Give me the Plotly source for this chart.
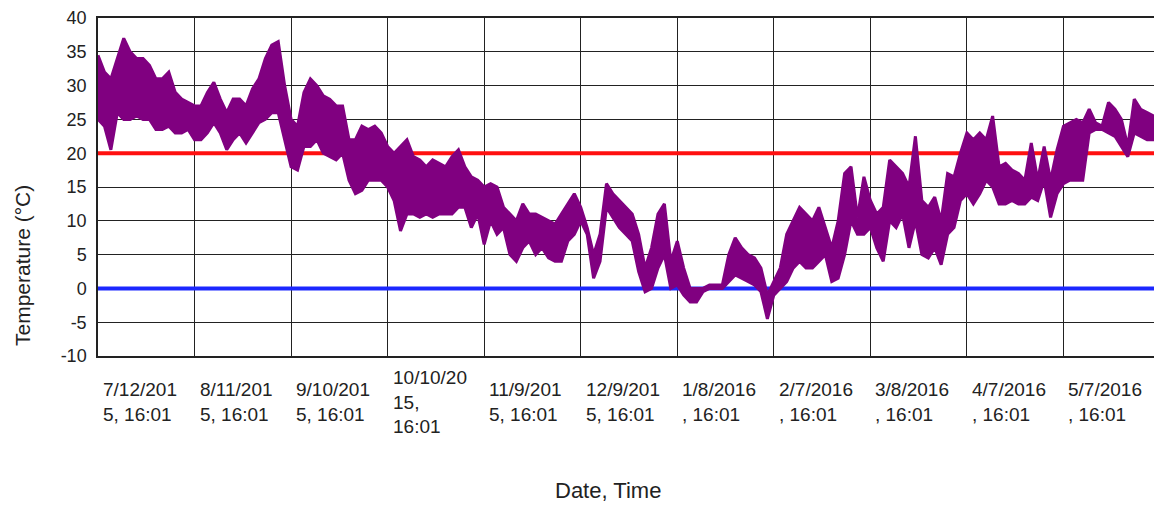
import pandas as pd
import plotly.graph_objects as go

# ---- data ----
start = "2015-07-12 16:01"
# upper / lower edge of the recorded temperature band, every 2 days from the start
temp_high = [
    34.5, 32, 31, 34, 37, 35, 34, 34, 33, 31, 31, 32, 29, 28, 27.5, 27,
    27, 29, 30.5, 28, 26, 28, 28, 27, 29.5, 31, 34, 36, 36.5, 30,
    25, 24, 29, 31, 30, 28.5, 28, 27, 27, 22, 22, 24, 23.5, 24, 23, 21,
    20, 21, 22, 19.5, 19, 18, 19, 18.5, 18, 19.5, 20.5,
    18, 16.5, 16, 15, 15.5, 15, 12, 11, 10, 12.5, 11, 11, 10.5, 10,
    9.5, 11, 12.5, 14, 12, 9, 5, 8, 15.5, 14, 13, 12, 11, 8,
    3, 6, 11, 12.5, 4, 7, 3, 0, 0, 0, 0.5, 0.5, 0.5, 5,
    7.5, 6, 5, 4.5, 3, -1, 1, 3, 8, 10, 12, 11, 10, 12,
    9, 6, 10, 17, 18, 10.5, 16.5, 13, 11, 12, 19, 18, 17, 15,
    22.5, 13, 12, 13.5, 10, 17, 16.5, 20, 23, 22, 23, 22, 25.5, 18,
    18.5, 17.5, 17, 16, 21.5, 16, 21, 16, 20.5, 24, 24.5, 25, 24.5,
    26.5, 24.5, 24, 27.5, 26.5, 25, 21, 28, 26.5, 26, 25.5, 23.5,
]
temp_low = [
    25, 24, 20.5, 26, 25, 25, 25.5, 25, 25, 23.5, 23.5, 24, 23, 23, 23.5, 22,
    22, 23, 24.5, 23, 20.5, 22, 23, 21.5, 23, 24.5, 25, 26, 26, 22,
    18, 17.5, 21, 21, 22, 20, 19.5, 19, 20, 16, 14, 14.5, 16, 16, 16, 15,
    13, 8.5, 11, 11, 10.5, 11, 10.5, 11, 11, 11, 12,
    12, 9, 11, 6.5, 10, 8, 9, 5, 4, 6, 7, 5, 6, 4.5,
    4, 4, 7, 8, 10, 8, 1.5, 4, 12, 10.5, 9, 8, 7, 2.5,
    -0.5, 0, 3, 5, 0, 0.5, -1, -2, -2, -0.5, 0, 0, 0, 1,
    2, 1.5, 1, 0.5, -0.5, -4.5, -1, 0, 1, 3, 4, 3, 3, 4,
    5, 1, 1.5, 5, 10, 8, 8, 9, 6, 4, 10, 9, 11, 6,
    10, 5, 4.5, 6, 3.5, 8, 9, 13, 14, 12.5, 14, 16, 15, 12.5,
    12.5, 13, 12.5, 12.5, 13.5, 13, 16, 10.5, 14, 15.5, 16, 16, 16,
    23, 23.5, 23.5, 23, 22.5, 21, 19.5, 23, 22.5, 22, 22, 23,
]
upper_limit = 20
lower_limit = 0
y_ticks = [-10, -5, 0, 5, 10, 15, 20, 25, 30, 35, 40]
y_tick_text = ["-10", "-5", "0", "5", "10", "15", "20", "25", "30", "35", "40"]
tick_labels = [
    "7/12/201<br>5, 16:01", "8/11/201<br>5, 16:01", "9/10/201<br>5, 16:01",
    "10/10/20<br>15,<br>16:01", "11/9/201<br>5, 16:01", "12/9/201<br>5, 16:01",
    "1/8/2016<br>, 16:01", "2/7/2016<br>, 16:01", "3/8/2016<br>, 16:01",
    "4/7/2016<br>, 16:01", "5/7/2016<br>, 16:01",
]
y_label = "Temperature (°C)"
x_label = "Date, Time"

times = pd.date_range(start=start, periods=len(temp_high), freq="2D")
grid_dates = pd.date_range(start=start, periods=len(tick_labels) + 1, freq="30D")

FONT = "Liberation Sans, Arial, sans-serif"
TXT = "#222222"
PURPLE = "#800080"

# the page body adds an 8px offset; figure sized so the plot lands where the reference has it
OFF = 8
W, H = 1162 - OFF, 508 - OFF
ml, mr, mt, mb = 98 - OFF, 2, 18 - OFF, 152
pw, ph = W - ml - mr, H - mt - mb


def py(screen_y):
    return 1 - (screen_y - OFF - mt) / ph


def px(screen_x):
    return (screen_x - OFF - ml) / pw


fig = go.Figure()
span = [grid_dates[0], grid_dates[-1]]
fig.add_trace(go.Scatter(x=span, y=[upper_limit] * 2, mode="lines",
                         line=dict(color="#ff1010", width=4), hoverinfo="skip"))
fig.add_trace(go.Scatter(x=span, y=[lower_limit] * 2, mode="lines",
                         line=dict(color="#1c28ff", width=4), hoverinfo="skip"))
fig.add_trace(go.Scatter(x=times, y=temp_low, mode="lines",
                         line=dict(color=PURPLE, width=3)))
fig.add_trace(go.Scatter(x=times, y=temp_high, mode="lines", fill="tonexty",
                         fillcolor=PURPLE, line=dict(color=PURPLE, width=3)))

annotations = []
for d, t in zip(grid_dates[:-1], tick_labels):
    annotations.append(dict(x=d, y=py(402), xref="x", yref="paper",
                            yanchor="middle", xanchor="left", align="left", xshift=3,
                            showarrow=False, text=t,
                            font=dict(family=FONT, size=19, color=TXT)))
annotations.append(dict(x=px(608), y=py(490), xref="paper", yref="paper",
                        xanchor="center", yanchor="middle", showarrow=False, text=x_label,
                        font=dict(family=FONT, size=22, color=TXT)))
annotations.append(dict(x=px(22), y=py(266), xref="paper", yref="paper",
                        xanchor="center", yanchor="middle", showarrow=False, text=y_label,
                        textangle=-90, font=dict(family=FONT, size=21, color=TXT)))

fig.update_layout(
    width=W, height=H,
    margin=dict(l=ml, r=mr, t=mt, b=mb, autoexpand=False),
    paper_bgcolor="white", plot_bgcolor="white",
    showlegend=False,
    font=dict(family=FONT, size=18, color=TXT),
    annotations=annotations,
    xaxis=dict(type="date", range=span, tickvals=list(grid_dates), showticklabels=False,
               showgrid=True, gridcolor="#222222", gridwidth=1.3, zeroline=False,
               showline=True, mirror=True, linecolor="#222222", linewidth=1.5, ticks=""),
    yaxis=dict(range=[-10, 40], tickmode="array", tickvals=y_ticks, ticktext=y_tick_text,
               showgrid=True, gridcolor="#222222", gridwidth=1.3, zeroline=False,
               showline=True, mirror=True, linecolor="#222222", linewidth=1.5, ticks="",
               ticklabelstandoff=6, tickfont=dict(family=FONT, size=18, color=TXT)),
)

fig.write_html("out.html")
